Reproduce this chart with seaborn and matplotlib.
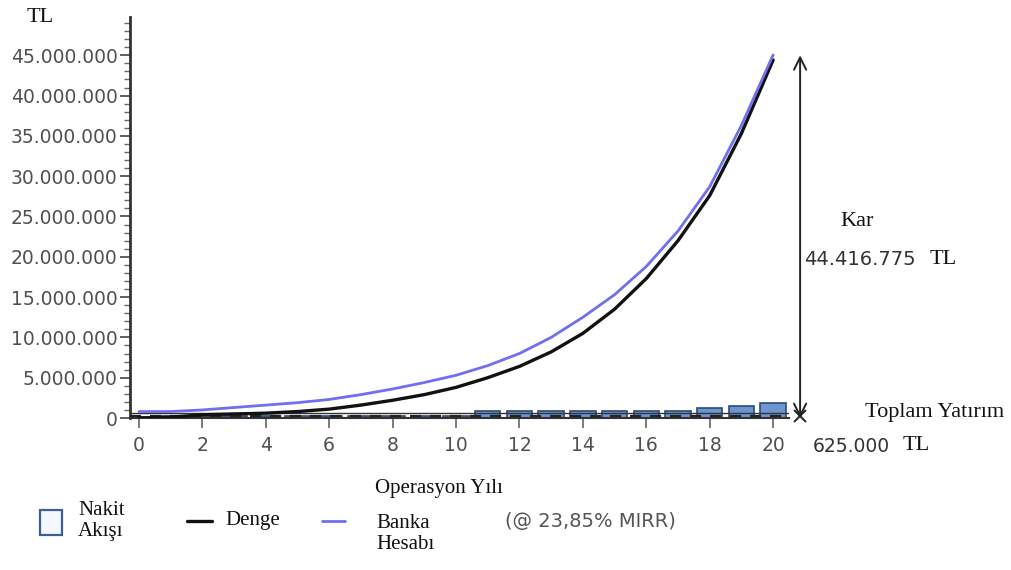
import matplotlib
matplotlib.use("Agg")
import matplotlib.pyplot as plt
from matplotlib.lines import Line2D
from matplotlib.patches import Rectangle
import seaborn as sns
import pandas as pd

# Operating years
years = list(range(0, 21))

# Yearly cash flow (TL)
cash_flow = [100000, 250000, 250000, 250000, 250000, 250000, 250000, 250000,
             250000, 250000, 250000, 900000, 900000, 900000, 900000, 900000,
             900000, 900000, 1200000, 1550000, 1900000]

# Cumulative balance (TL)
balance = [0, 100000, 400000, 500000, 600000, 800000, 1100000, 1600000,
           2200000, 2900000, 3800000, 5000000, 6400000, 8200000, 10500000,
           13500000, 17300000, 22000000, 27600000, 35300000, 44416775]

# Bank account at MIRR (TL)
bank = [800000, 800000, 1000000, 1300000, 1600000, 1900000, 2300000, 2900000,
        3600000, 4400000, 5300000, 6500000, 8000000, 10000000, 12500000,
        15300000, 18800000, 23200000, 28700000, 36300000, 45041775]

yticks = [0, 5000000, 10000000, 15000000, 20000000, 25000000, 30000000,
          35000000, 40000000, 45000000]
ytick_labels = ["0", "5.000.000", "10.000.000", "15.000.000", "20.000.000",
                "25.000.000", "30.000.000", "35.000.000", "40.000.000",
                "45.000.000"]
xticks = [0, 2, 4, 6, 8, 10, 12, 14, 16, 18, 20]

profit_text = "44.416.775"
invest_text = "625.000"
mirr_text = "(@ 23,85% MIRR)"

df = pd.DataFrame({"Yil": years, "Nakit": cash_flow, "Denge": balance, "Banka": bank})

sns.set_style("white")
W, H = 1012, 570
fig = plt.figure(figsize=(W / 100, H / 100), dpi=100)

def fx(px):
    return px / W

def fy(py):
    return 1 - py / H

ax = fig.add_axes([fx(130), fy(418), fx(789) - fx(130), fy(17) - fy(418)])

SANS = "DejaVu Sans"
SERIF = "Liberation Serif"
TICK_C = "#505050"
BLUE = "#6f6ff0"
BAR_FACE = "#6d95d2"
BAR_EDGE = "#2c4a78"

sns.barplot(data=df, x="Yil", y="Nakit", native_scale=True, width=0.8,
            color=BAR_FACE, edgecolor=BAR_EDGE, linewidth=1.2, ax=ax,
            saturation=1, zorder=2)
ax.axhline(250000, color="#222222", lw=1.6, dashes=(5, 4), zorder=3)
ax.axhline(600000, color="#333333", lw=1.0, zorder=2.5)
sns.lineplot(data=df, x="Yil", y="Denge", color="#111111", lw=2.4, ax=ax, zorder=4)
sns.lineplot(data=df, x="Yil", y="Banka", color=BLUE, lw=2.0, ax=ax, zorder=5)

ax.set_xlim(-0.28, 20.5)
ax.set_ylim(0, 49750000)
ax.set_yticks(yticks)
ax.set_yticklabels(ytick_labels)
ax.set_yticks(list(range(1000000, 50000000, 1000000)), minor=True)
ax.set_xticks(xticks)
ax.set_xticklabels([str(v) for v in xticks])
ax.set_xlabel("")
ax.set_ylabel("")

for s in ["top", "right"]:
    ax.spines[s].set_visible(False)
ax.spines["left"].set_color("#333333")
ax.spines["left"].set_linewidth(2.0)
ax.spines["bottom"].set_color("#333333")
ax.spines["bottom"].set_linewidth(1.5)

ax.tick_params(axis="y", which="major", direction="out", length=7, width=1.2,
               color="#444444", labelsize=13.5, labelcolor=TICK_C, pad=2, left=True)
ax.tick_params(axis="y", which="minor", direction="out", length=4, width=1.0,
               color="#666666", left=True)
ax.tick_params(axis="x", which="major", direction="out", length=7, width=1.2,
               color="#666666", labelsize=13.5, labelcolor=TICK_C, pad=6, bottom=True)
for lab in ax.get_xticklabels() + ax.get_yticklabels():
    lab.set_family(SANS)

# Profit arrow from total investment up to final balance
arrow_x = 20.85
ax.annotate("", xy=(arrow_x, 45000000), xytext=(arrow_x, 0),
            arrowprops=dict(arrowstyle="<->", color="#222222", lw=1.4,
                            mutation_scale=22, shrinkA=0, shrinkB=0),
            annotation_clip=False)
ax.plot([arrow_x], [250000], marker="x", ms=9, mew=1.4, color="#222222",
        clip_on=False, zorder=6)

fig.text(fx(27), fy(17), "TL", family=SERIF, fontsize=16, color="#111111", va="center")
fig.text(fx(840), fy(221), "Kar", family=SERIF, fontsize=16, color="#111111", va="center")
fig.text(fx(804), fy(259), profit_text, family=SANS, fontsize=14, color="#333333", va="center")
fig.text(fx(930), fy(259), "TL", family=SERIF, fontsize=16, color="#111111", va="center")
fig.text(fx(865), fy(412), "Toplam Yatırım", family=SERIF, fontsize=16, color="#111111", va="center")
fig.text(fx(813), fy(446), invest_text, family=SANS, fontsize=13.5, color="#333333", va="center")
fig.text(fx(903), fy(446), "TL", family=SERIF, fontsize=16, color="#111111", va="center")
fig.text(fx(439), fy(489), "Operasyon Yılı", family=SERIF, fontsize=15,
         color="#111111", ha="center", va="center")

# Legend row
fig.add_artist(Rectangle((fx(40), fy(535)), fx(62) - fx(40), fy(510) - fy(535),
                         transform=fig.transFigure, facecolor="#f4f7fc",
                         edgecolor="#3d5f95", linewidth=1.6))
fig.text(fx(78), fy(521), "Nakit\nAkışı", family=SERIF, fontsize=15,
         color="#111111", va="center", linespacing=1.15)
fig.add_artist(Line2D([fx(187), fx(212)], [fy(521), fy(521)],
                      transform=fig.transFigure, color="#111111", lw=2.4))
fig.text(fx(225), fy(521), "Denge", family=SERIF, fontsize=15,
         color="#111111", va="center")
fig.add_artist(Line2D([fx(322), fx(345)], [fy(521), fy(521)],
                      transform=fig.transFigure, color=BLUE, lw=2.0))
fig.text(fx(376), fy(534), "Banka\nHesabı", family=SERIF, fontsize=15,
         color="#111111", va="center", linespacing=1.15)
fig.text(fx(505), fy(521), mirr_text, family=SANS, fontsize=14,
         color="#555555", va="center")

fig.savefig("out.png", dpi=100)
